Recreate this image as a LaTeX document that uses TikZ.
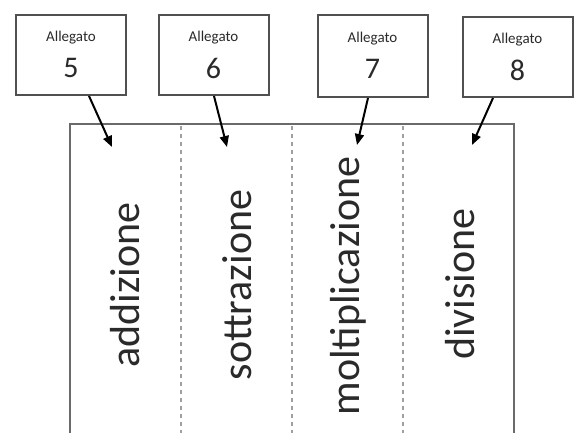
\documentclass[tikz,border=0pt]{standalone}
\usepackage{fontspec}
\setmainfont{Carlito}
\usetikzlibrary{calc,arrows.meta}
\definecolor{boxline}{HTML}{505050}
\definecolor{frameline}{HTML}{6A6A6A}
\definecolor{sepline}{HTML}{A0A0A0}
\definecolor{txt}{HTML}{2A2A2A}
\tikzset{
  allbox/.style={draw=boxline, line width=2pt, minimum width=110pt, minimum height=80pt, inner sep=0pt, fill=white},
  smalltxt/.style={text=txt, font=\fontsize{15}{15}\selectfont, inner sep=0pt},
  numtxt/.style={text=txt, font=\fontsize{30}{30}\selectfont, inner sep=0pt},
  coltxt/.style={text=txt, font=\fontsize{42}{42}\selectfont, rotate=90, inner sep=0pt},
  arr/.style={-{Triangle[length=11pt,width=9pt]}, line width=2pt, black},
  frame/.style={draw=frameline, line width=2.5pt},
  sep/.style={draw=sepline, line width=1.8pt, dash pattern=on 4pt off 4pt}
}
\begin{document}
\begin{tikzpicture}[x=1pt,y=-1pt]
\clip (0,0) rectangle (581,432);
\fill[white] (0,0) rectangle (581,432);
% frame
\coordinate (fl) at (70,124);
\coordinate (fr) at (514,124);
\draw[frame] (70,440) |- (fr) -- (514,440);
\draw[sep] (181,126) -- (181,440);
\draw[sep] (292,126) -- (292,440);
\draw[sep] (403,126) -- (403,440);
% column texts
\node[coltxt] (t1) at (125,285) {addizione};
\node[coltxt] (t2) at (237,285) {sottrazione};
\node[coltxt] (t3) at (348,286) {moltiplicazione};
\node[coltxt] (t4) at (460,284) {divisione};
% boxes
\node[allbox] (b5) at (71,55) {};
\node[allbox] (b6) at (213.5,55) {};
\node[allbox, minimum height=82pt] (b7) at (372.5,56) {};
\node[allbox] (b8) at (517.5,57) {};
\foreach \b/\n in {b5/5,b6/6,b7/7,b8/8}{
  \node[smalltxt] (\b l) at ($(\b.center)+(0,-17)$) {Allegato};
  \node[numtxt] (\b n) at ($(\b.center)+(0,13)$) {\n};
}
% arrow targets
\coordinate (p5) at (112,147);
\coordinate (p6) at (227,147);
\coordinate (p7) at (357,145);
\coordinate (p8) at (472,145);
\draw[arr] ($(b5.south)+(18,0)$) -- (p5);
\draw[arr] ($(b6.south)+(0.5,0)$) -- (p6);
\draw[arr] ($(b7.south)+(-4.5,0)$) -- (p7);
\draw[arr] ($(b8.south)+(-24.5,0)$) -- (p8);
\end{tikzpicture}
\end{document}
